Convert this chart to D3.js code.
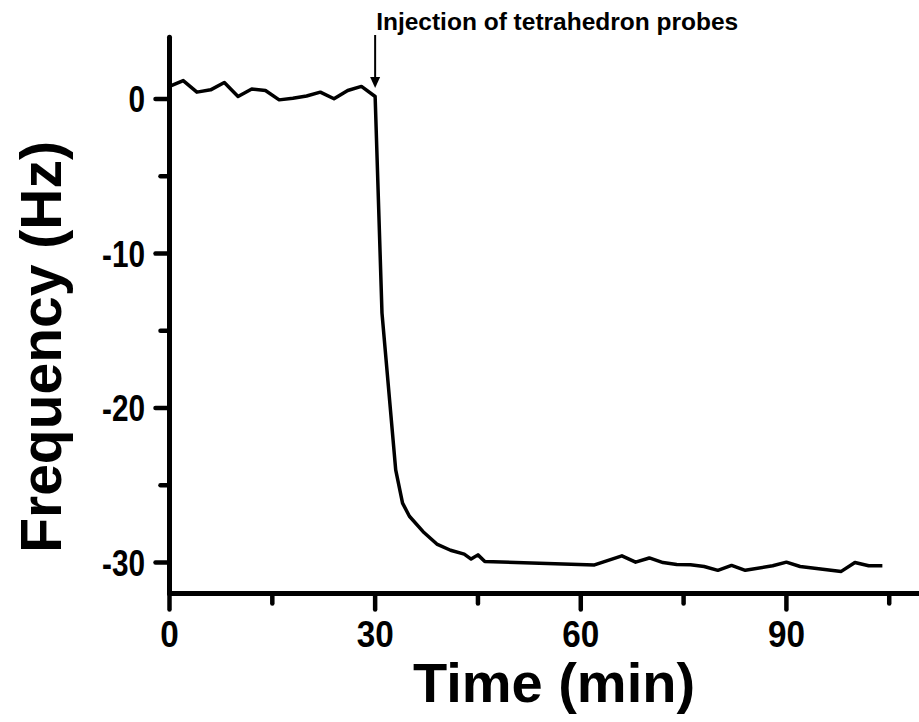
<!DOCTYPE html>
<html>
<head>
<meta charset="utf-8">
<script src="https://d3js.org/d3.v7.min.js"></script>
<style>
  body { margin: 0; background: #fff; }
  text { font-family: "Liberation Sans", Arial, sans-serif; font-weight: bold; fill: #000; }
</style>
</head>
<body>
<script>
var width = 919,
    height = 722;

// time (min)
var time = [0, 2, 4, 6, 8, 10, 12, 14, 16, 18, 20, 22, 24, 26, 28, 30,
            31, 33, 34, 35, 37, 39, 41, 43, 44, 45, 46,
            62, 66, 68, 70, 72, 74, 76, 78, 80, 82, 84, 88, 90, 92, 98, 100, 102, 104];
// frequency shift (Hz)
var freq = [0.82, 1.2, 0.45, 0.6, 1.07, 0.17, 0.65, 0.56, -0.05, 0.05, 0.2, 0.45, 0.02, 0.56, 0.82, 0.17,
            -13.85, -24.0, -26.15, -27.0, -28.0, -28.8, -29.2, -29.45, -29.77, -29.5, -29.93,
            -30.15, -29.56, -29.97, -29.7, -30.0, -30.12, -30.14, -30.25, -30.5, -30.18, -30.5, -30.2, -29.97, -30.25, -30.57, -29.99, -30.2, -30.2];

var xMajor = [0, 30, 60, 90];
var xMinor = [15, 45, 75, 105];
var yMajor = [0, -10, -20, -30];
var yMinor = [-5, -15, -25];

var annotation = "Injection of tetrahedron probes";
var injectTime = 30;

var data = time.map(function(t, i) { return {t: t, v: freq[i]}; });

var svg = d3.select('body').append('svg')
    .attr('width', width)
    .attr('height', height);

var x = d3.scaleLinear().domain([0, 110]).range([169.5, 923.5]);
var y = d3.scaleLinear().domain([-32, 4]).range([593.5, 37.3]);

// axis lines
svg.append('line')
    .attr('x1', x(0)).attr('x2', x(110))
    .attr('y1', y(-32)).attr('y2', y(-32))
    .attr('stroke', '#000').attr('stroke-width', 5).attr('stroke-linecap', 'round');
svg.append('line')
    .attr('x1', x(0)).attr('x2', x(0))
    .attr('y1', y(-32)).attr('y2', y(4))
    .attr('stroke', '#000').attr('stroke-width', 5).attr('stroke-linecap', 'round');

// x ticks
svg.selectAll('.xtick')
    .data(xMajor.map(function(d) { return {v: d, len: 16}; })
      .concat(xMinor.map(function(d) { return {v: d, len: 10}; })))
    .enter().append('line').attr('class', 'xtick')
    .attr('x1', function(d) { return x(d.v); })
    .attr('x2', function(d) { return x(d.v); })
    .attr('y1', y(-32))
    .attr('y2', function(d) { return y(-32) + d.len; })
    .attr('stroke', '#000').attr('stroke-width', 4.5).attr('stroke-linecap', 'round');

svg.selectAll('.xlab')
    .data(xMajor)
    .enter().append('text').attr('class', 'xlab')
    .attr('transform', function(d) { return 'translate(' + x(d) + ',647) scale(0.95,1.05)'; })
    .attr('text-anchor', 'middle')
    .style('font-size', '35px')
    .text(function(d) { return d; });

// y ticks
svg.selectAll('.ytick')
    .data(yMajor.map(function(d) { return {v: d, len: 14}; })
      .concat(yMinor.map(function(d) { return {v: d, len: 9}; })))
    .enter().append('line').attr('class', 'ytick')
    .attr('x1', x(0))
    .attr('x2', function(d) { return x(0) - d.len; })
    .attr('y1', function(d) { return y(d.v); })
    .attr('y2', function(d) { return y(d.v); })
    .attr('stroke', '#000').attr('stroke-width', 4.5).attr('stroke-linecap', 'round');

svg.selectAll('.ylab')
    .data(yMajor)
    .enter().append('text').attr('class', 'ylab')
    .attr('transform', function(d) { return 'translate(145,' + (y(d) + 13) + ') scale(0.85,1.05)'; })
    .attr('text-anchor', 'end')
    .style('font-size', '35px')
    .text(function(d) { return d; });

// axis titles
svg.append('text')
    .attr('x', 554).attr('y', 702)
    .attr('text-anchor', 'middle')
    .style('font-size', '56px')
    .text('Time (min)');

svg.append('text')
    .attr('transform', 'translate(61,347) rotate(-90)')
    .attr('text-anchor', 'middle')
    .style('font-size', '57px')
    .text('Frequency (Hz)');

// data line
var line = d3.line()
    .x(function(d) { return x(d.t); })
    .y(function(d) { return y(d.v); });

svg.append('path')
    .datum(data)
    .attr('d', line)
    .attr('fill', 'none')
    .attr('stroke', '#000')
    .attr('stroke-width', 3.5)
    .attr('stroke-linejoin', 'round');

// injection arrow + label
var ax = x(injectTime);
svg.append('line')
    .attr('x1', ax).attr('x2', ax)
    .attr('y1', 35).attr('y2', 80)
    .attr('stroke', '#000').attr('stroke-width', 2);
svg.append('path')
    .attr('d', 'M' + (ax - 5) + ',77 L' + (ax + 5) + ',77 L' + ax + ',88 Z')
    .attr('fill', '#000');

svg.append('text')
    .attr('x', ax + 1).attr('y', 30)
    .style('font-size', '24.5px')
    .text(annotation);
</script>
</body>
</html>
